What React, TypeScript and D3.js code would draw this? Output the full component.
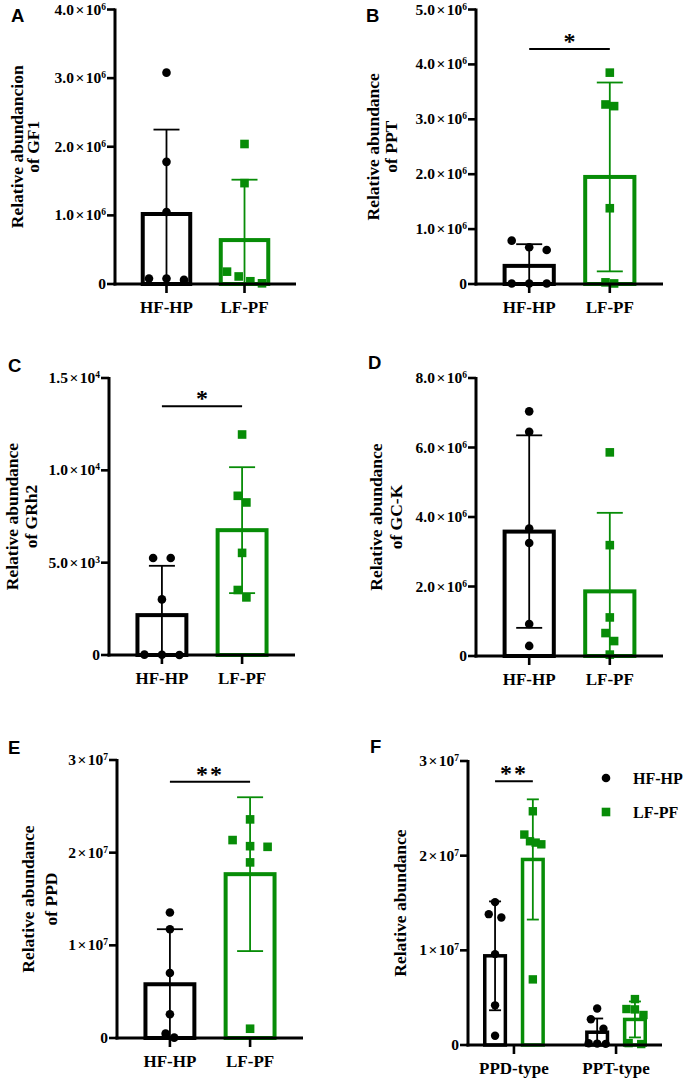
import React from "react";
import * as d3 from "d3";

// ---------- categories ----------
const groups = ["HF-HP", "LF-PF"];
const fTypes = ["PPD-type", "PPT-type"];

// ---------- A: GF1 ----------
const gf1HF = [3.08e6, 1.78e6, 1.05e6, 0.08e6, 0.08e6, 0.06e6];
const gf1LF = [2.04e6, 1.47e6, 0.18e6, 0.11e6, 0.04e6, 0.01e6];
const gf1Mean = [1.02e6, 0.64e6];
const gf1SD = [1.23e6, 0.88e6];
const ticksA = [0, 1e6, 2e6, 3e6, 4e6];

// ---------- B: PPT ----------
const pptHF = [0.79e6, 0.67e6, 0.62e6, 0.01e6, 0.01e6, 0.01e6];
const pptLF = [3.85e6, 3.27e6, 3.24e6, 1.38e6, 0.03e6, 0.01e6];
const pptMean = [0.33e6, 1.95e6];
const pptSD = [0.395e6, 1.72e6];
const ticksB = [0, 1e6, 2e6, 3e6, 4e6, 5e6];

// ---------- C: GRh2 ----------
const grh2HF = [5250, 5250, 3010, 20, 10, 0];
const grh2LF = [11940, 8620, 8260, 5530, 3520, 3120];
const grh2Mean = [2160, 6760];
const grh2SD = [2670, 3410];
const ticksC = [0, 5e3, 1e4, 1.5e4];

// ---------- D: GC-K ----------
const gckHF = [7.04e6, 6.45e6, 3.67e6, 3.25e6, 0.92e6, 0.29e6];
const gckLF = [5.86e6, 3.19e6, 1.11e6, 0.66e6, 0.43e6, 0.04e6];
const gckMean = [3.58e6, 1.86e6];
const gckSD = [2.77e6, 2.26e6];
const ticksD = [0, 2e6, 4e6, 6e6, 8e6];

// ---------- E: PPD ----------
const ppdHF = [13.55e6, 11.74e6, 7.02e6, 2.56e6, 0.47e6, 0.04e6];
const ppdLF = [23.59e6, 21.36e6, 20.7e6, 20.63e6, 18.95e6, 1.0e6];
const ppdMean = [5.8e6, 17.68e6];
const ppdSD = [5.94e6, 8.3e6];
const ticksE = [0, 1e7, 2e7, 3e7];

// ---------- F: PPD-type / PPT-type ----------
const ppdTypeHF = [15.09e6, 13.82e6, 13.47e6, 9.6e6, 4.19e6, 0.98e6];
const ppdTypeLF = [24.69e6, 22.23e6, 21.52e6, 21.38e6, 21.2e6, 6.93e6];
const pptTypeHF = [3.85e6, 2.72e6, 1.72e6, 0.18e6, 0.15e6, 0.12e6];
const pptTypeLF = [4.85e6, 3.8e6, 3.76e6, 3.17e6, 0.2e6, 0.1e6];
const fMeanHF = [9.42e6, 1.35e6];
const fSDHF = [5.75e6, 1.45e6];
const fMeanLF = [19.6e6, 2.7e6];
const fSDLF = [6.35e6, 1.9e6];
const ticksF = [0, 1e7, 2e7, 3e7];

// ---------- styles ----------
const BLACK = "#000000";
const GREEN = "#078c07";
const SERIF = "'Liberation Serif', 'Times New Roman', Times, serif";
const SANS = "'Liberation Sans', Arial, Helvetica, sans-serif";

type Shape = "circle" | "square";
interface Series {
  cat: string;
  sub: string;
  color: string;
  shape: Shape;
  values: number[];
  mean: number;
  sd: number;
}
interface PanelDef {
  letter: string;
  letterX: number;
  letterY: number;
  x0: number;
  x1: number;
  yTop: number;
  y0: number;
  ymax: number;
  ticks: number[];
  exp: number;
  dec: number;
  title: string[];
  titleX: number[];
  cats: string[];
  grouped: boolean;
  series: Series[];
  sig?: { a: number; b: number; value: number; text: string };
}

function mk(cat: string, sub: string, values: number[], mean: number, sd: number): Series {
  const hf = sub === "HF-HP";
  return { cat, sub, color: hf ? BLACK : GREEN, shape: hf ? "circle" : "square", values, mean, sd };
}

const panels: PanelDef[] = [
  {
    letter: "A", letterX: 11, letterY: 22,
    x0: 115, x1: 296, yTop: 9.5, y0: 284, ymax: 4e6, ticks: ticksA, exp: 6, dec: 1,
    title: ["Relative abundancion", "of GF1"], titleX: [17, 33],
    cats: groups, grouped: false,
    series: [mk("HF-HP", "HF-HP", gf1HF, gf1Mean[0], gf1SD[0]), mk("LF-PF", "LF-PF", gf1LF, gf1Mean[1], gf1SD[1])],
  },
  {
    letter: "B", letterX: 366, letterY: 22,
    x0: 476, x1: 663, yTop: 9.5, y0: 284, ymax: 5e6, ticks: ticksB, exp: 6, dec: 1,
    title: ["Relative abundance", "of PPT"], titleX: [373, 391],
    cats: groups, grouped: false,
    series: [mk("HF-HP", "HF-HP", pptHF, pptMean[0], pptSD[0]), mk("LF-PF", "LF-PF", pptLF, pptMean[1], pptSD[1])],
    sig: { a: 0, b: 1, value: 4.28e6, text: "*" },
  },
  {
    letter: "C", letterX: 8, letterY: 372,
    x0: 109, x1: 295, yTop: 378, y0: 655, ymax: 1.5e4, ticks: ticksC, exp: 0, dec: 1,
    title: ["Relative abundance", "of GRh2"], titleX: [12, 31],
    cats: groups, grouped: false,
    series: [mk("HF-HP", "HF-HP", grh2HF, grh2Mean[0], grh2SD[0]), mk("LF-PF", "LF-PF", grh2LF, grh2Mean[1], grh2SD[1])],
    sig: { a: 0, b: 1, value: 13470, text: "*" },
  },
  {
    letter: "D", letterX: 368, letterY: 369,
    x0: 476, x1: 663, yTop: 378, y0: 656, ymax: 8e6, ticks: ticksD, exp: 6, dec: 1,
    title: ["Relative abundance", "of GC-K"], titleX: [376, 396],
    cats: groups, grouped: false,
    series: [mk("HF-HP", "HF-HP", gckHF, gckMean[0], gckSD[0]), mk("LF-PF", "LF-PF", gckLF, gckMean[1], gckSD[1])],
  },
  {
    letter: "E", letterX: 8, letterY: 754,
    x0: 117, x1: 303, yTop: 760, y0: 1038, ymax: 3e7, ticks: ticksE, exp: 7, dec: 0,
    title: ["Relative abundance", "of PPD"], titleX: [28, 51],
    cats: groups, grouped: false,
    series: [mk("HF-HP", "HF-HP", ppdHF, ppdMean[0], ppdSD[0]), mk("LF-PF", "LF-PF", ppdLF, ppdMean[1], ppdSD[1])],
    sig: { a: 0, b: 1, value: 27.65e6, text: "**" },
  },
  {
    letter: "F", letterX: 370, letterY: 753,
    x0: 468, x1: 662, yTop: 761, y0: 1045, ymax: 3e7, ticks: ticksF, exp: 7, dec: 0,
    title: ["Relative abundance"], titleX: [400],
    cats: fTypes, grouped: true,
    series: [
      mk(fTypes[0], "HF-HP", ppdTypeHF, fMeanHF[0], fSDHF[0]),
      mk(fTypes[0], "LF-PF", ppdTypeLF, fMeanLF[0], fSDLF[0]),
      mk(fTypes[1], "HF-HP", pptTypeHF, fMeanHF[1], fSDHF[1]),
      mk(fTypes[1], "LF-PF", pptTypeLF, fMeanLF[1], fSDLF[1]),
    ],
    sig: { a: 0, b: 1, value: 27.85e6, text: "**" },
  },
];

// scatter layout similar to GraphPad: overlapping points spread horizontally
function swarm(values: number[], y: (v: number) => number, p: { thr: number; narrow: number; wide: number; span: number }) {
  const pts = values.map((v) => ({ v, py: y(v), dx: 0 })).sort((a, b) => b.v - a.v);
  const grs: (typeof pts)[] = [];
  for (const q of pts) {
    const g = grs[grs.length - 1];
    if (g && q.py - g[g.length - 1].py < p.thr) g.push(q);
    else grs.push([q]);
  }
  for (const g of grs) {
    const n = g.length;
    if (n === 1) continue;
    let s: number;
    if (n === 2) s = Math.abs(g[1].py - g[0].py) < 0.5 ? p.wide : p.narrow;
    else s = Math.min(p.wide, p.span / (n - 1));
    g.forEach((q, i) => (q.dx = (i - (n - 1) / 2) * s));
  }
  return pts;
}

function TickLabel({ x, y, v, exp, dec }: { x: number; y: number; v: number; exp: number; dec: number }) {
  const common = { fontFamily: SERIF, fontWeight: 700, fill: BLACK } as const;
  if (v === 0) {
    return (
      <text x={x} y={y} textAnchor="end" fontSize={15.5} {...common}>
        0
      </text>
    );
  }
  let e = exp;
  if (e === 0) e = Math.floor(Math.log10(Math.abs(v)));
  const m = (v / Math.pow(10, e)).toFixed(dec);
  return (
    <text x={x} y={y} textAnchor="end" fontSize={15.5} {...common}>
      <tspan>{m}</tspan>
      <tspan dx={1.5}>×</tspan>
      <tspan dx={1.5}>10</tspan>
      <tspan dy={-5} fontSize={9.5}>
        {String(e)}
      </tspan>
    </text>
  );
}

function Panel({ d }: { d: PanelDef }) {
  const y = d3.scaleLinear().domain([0, d.ymax]).range([d.y0, d.yTop]);
  const outer = d3
    .scaleBand<string>()
    .domain(d.cats)
    .range([d.x0, d.x1])
    .paddingInner(d.grouped ? 0.394 : 0.34)
    .paddingOuter(d.grouped ? 0.147 : 0.33);
  const inner = d3.scaleBand<string>().domain(groups).range([0, outer.bandwidth()]).paddingInner(0.362).paddingOuter(0);

  const barStroke = d.grouped ? 3.5 : 4;
  const capHalf = d.grouped ? 6 : 13;
  const r = d.grouped ? 4.2 : 4.3;
  const sw = d.grouped
    ? { thr: 9.8, narrow: 12.6, wide: 16, span: 17 }
    : { thr: 9.8, narrow: 8.6, wide: 17.6, span: 35 };

  const bars = d.series.map((s) => {
    const bx = d.grouped ? (outer(s.cat) as number) + (inner(s.sub) as number) : (outer(s.cat) as number);
    const bw = d.grouped ? inner.bandwidth() : outer.bandwidth();
    return { s, bx, bw, cx: bx + bw / 2 };
  });

  const midY = (d.yTop + d.y0) / 2;

  return (
    <g>
      {/* panel letter */}
      <text x={d.letterX} y={d.letterY} fontFamily={SANS} fontWeight={700} fontSize={18.5} fill={BLACK}>
        {d.letter}
      </text>

      {/* axis title */}
      {d.title.map((t, i) => (
        <text
          key={i}
          transform={`translate(${d.titleX[i]},${midY}) rotate(-90)`}
          textAnchor="middle"
          dominantBaseline="central"
          fontFamily={SERIF}
          fontWeight={700}
          fontSize={17.5}
          fill={BLACK}
        >
          {t}
        </text>
      ))}

      {/* y ticks */}
      {d.ticks.map((t) => (
        <g key={t}>
          <line x1={d.x0 - 8} x2={d.x0} y1={y(t)} y2={y(t)} stroke={BLACK} strokeWidth={2.6} />
          <TickLabel x={d.x0 - 9} y={y(t) + 5} v={t} exp={d.exp} dec={d.dec} />
        </g>
      ))}

      {/* bars */}
      {bars.map(({ s, bx, bw }, i) => (
        <rect
          key={"b" + i}
          x={bx + barStroke / 2}
          y={y(s.mean)}
          width={bw - barStroke}
          height={d.y0 - y(s.mean)}
          fill="none"
          stroke={s.color}
          strokeWidth={barStroke}
        />
      ))}

      {/* error bars */}
      {bars.map(({ s, cx }, i) => {
        const hi = s.mean + s.sd;
        const lo = s.mean - s.sd;
        return (
          <g key={"e" + i} stroke={s.color} strokeWidth={1.8}>
            <line x1={cx} x2={cx} y1={y(hi)} y2={y(Math.max(lo, 0))} />
            <line x1={cx - capHalf} x2={cx + capHalf} y1={y(hi)} y2={y(hi)} />
            {lo > 0 && <line x1={cx - capHalf} x2={cx + capHalf} y1={y(lo)} y2={y(lo)} />}
          </g>
        );
      })}

      {/* points */}
      {bars.map(({ s, cx }, i) =>
        swarm(s.values, y, sw).map((p, j) =>
          s.shape === "circle" ? (
            <circle key={`p${i}-${j}`} cx={cx + p.dx} cy={p.py} r={r} fill={s.color} />
          ) : (
            <rect key={`p${i}-${j}`} x={cx + p.dx - r} y={p.py - r} width={2 * r} height={2 * r} fill={s.color} />
          )
        )
      )}

      {/* axes */}
      <line x1={d.x0} x2={d.x0} y1={d.yTop - 1} y2={d.y0 + 1.5} stroke={BLACK} strokeWidth={3} />
      <line x1={d.x0 - 1.5} x2={d.x1} y1={d.y0} y2={d.y0} stroke={BLACK} strokeWidth={3} />

      {/* x ticks & labels */}
      {d.cats.map((c) => {
        const cx = (outer(c) as number) + outer.bandwidth() / 2;
        return (
          <g key={c}>
            <line x1={cx} x2={cx} y1={d.y0} y2={d.y0 + 9} stroke={BLACK} strokeWidth={2.6} />
            <text x={cx} y={d.y0 + 29} textAnchor="middle" fontFamily={SERIF} fontWeight={700} fontSize={17} fill={BLACK}>
              {c}
            </text>
          </g>
        );
      })}

      {/* significance */}
      {d.sig && (
        <g>
          <line
            x1={bars[d.sig.a].cx}
            x2={bars[d.sig.b].cx}
            y1={y(d.sig.value)}
            y2={y(d.sig.value)}
            stroke={BLACK}
            strokeWidth={2}
          />
          <text
            x={(bars[d.sig.a].cx + bars[d.sig.b].cx) / 2}
            y={y(d.sig.value)}
            textAnchor="middle"
            fontFamily={SERIF}
            fontWeight={700}
            fontSize={24}
            letterSpacing={d.sig.text.length > 1 ? 2 : 0}
            fill={BLACK}
          >
            {d.sig.text}
          </text>
        </g>
      )}

      {/* legend for grouped panel */}
      {d.grouped && (
        <g>
          {groups.map((g, i) => {
            const ly = 778 + i * 34;
            const col = i === 0 ? BLACK : GREEN;
            return (
              <g key={g}>
                {i === 0 ? (
                  <circle cx={606} cy={ly} r={4.3} fill={col} />
                ) : (
                  <rect x={606 - 4.3} y={ly - 4.3} width={8.6} height={8.6} fill={col} />
                )}
                <text x={633} y={ly + 5.5} fontFamily={SERIF} fontWeight={700} fontSize={16} fill={BLACK}>
                  {g}
                </text>
              </g>
            );
          })}
        </g>
      )}
    </g>
  );
}

export default function App() {
  return (
    <svg
      width={685}
      height={1080}
      viewBox="0 0 685 1080"
      style={{ position: "absolute", left: 0, top: 0, background: "#ffffff" }}
    >
      <rect x={0} y={0} width={685} height={1080} fill="#ffffff" />
      {panels.map((p) => (
        <Panel key={p.letter} d={p} />
      ))}
    </svg>
  );
}
